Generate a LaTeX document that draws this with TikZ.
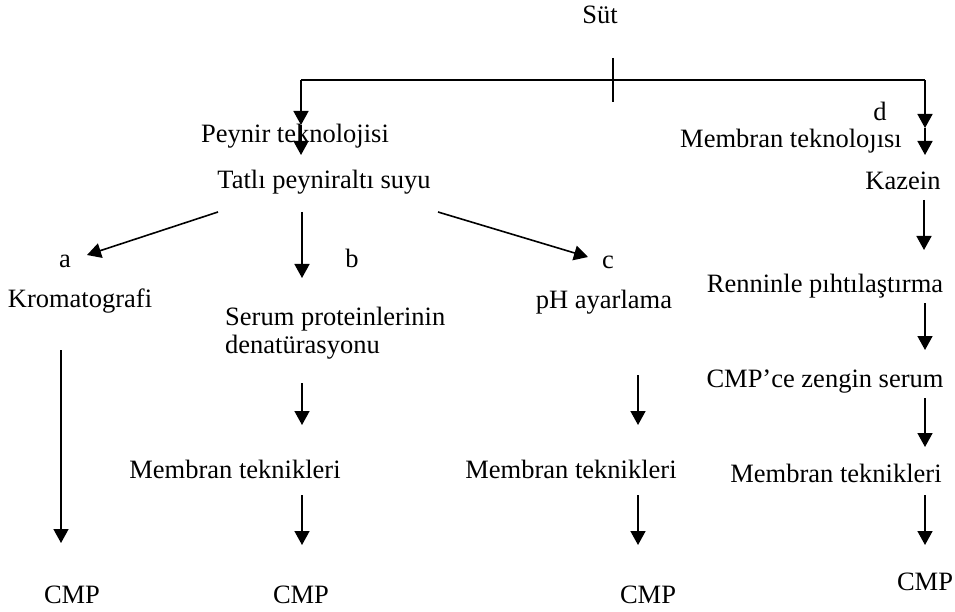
\documentclass[tikz,border=0pt]{standalone}
\usepackage{fontspec}
\setmainfont{Liberation Serif}
\usepackage{tikz}
\usetikzlibrary{arrows.meta}
\tikzset{lbl/.style = {anchor=base, inner sep=0pt,
  font=\fontsize{26.5}{28}\selectfont},
  arr/.style = {line width=1.6pt, -{Triangle[length=14pt,width=15pt]}},
  bar/.style = {line width=1.6pt}}

\begin{document}
\begin{tikzpicture}[x=1pt,y=-1pt]
  \useasboundingbox (0,0) rectangle (955,612);

  \node[lbl] (sut) at (600,24) {Süt};
  \node[lbl] (peynir) at (295,143) {Peynir teknolojisi};
  \node[lbl] (tatli) at (324,189) {Tatlı peyniraltı suyu};
  \node[lbl] (d) at (880,121) {d};
  \node[lbl] (memtek) at (791,148) {Membran teknoloȷısı};
  \node[lbl] (kazein) at (903,190) {Kazein};

  \node[lbl] (a) at (65,268) {a};
  \node[lbl] (b) at (352,268) {b};
  \node[lbl] (c) at (608,269) {c};
  \node[lbl] (krom) at (80,307) {Kromatografi};
  \node[lbl, align=left, anchor=base west] (serum) at (225,353)
    {Serum proteinlerinin\\denatürasyonu};
  \node[lbl] (ph) at (604,308) {pH ayarlama};
  \node[lbl] (rennin) at (825,292) {Renninle pıhtılaştırma};
  \node[lbl] (cmpserum) at (825,387) {CMP’ce zengin serum};

  \node[lbl] (memb1) at (235,478) {Membran teknikleri};
  \node[lbl] (memb2) at (571,478) {Membran teknikleri};
  \node[lbl] (memb3) at (836,482) {Membran teknikleri};

  \node[lbl] (cmp1) at (72,603) {CMP};
  \node[lbl] (cmp2) at (301,603) {CMP};
  \node[lbl] (cmp3) at (648,603) {CMP};
  \node[lbl] (cmp4) at (925,590) {CMP};

  \coordinate (barL) at (301,80);
  \coordinate (barR) at (925,80);
  \coordinate (tickT) at (613,58);
  \coordinate (tickB) at (613,102);
  \coordinate (midL) at (301,125);
  \coordinate (endL) at (301,155);
  \coordinate (midR) at (925,128);
  \coordinate (endR) at (925,155);

  \draw[bar] (barL) -- (barR);
  \draw[bar] (tickT) -- (tickB);
  \path[arr] (barL) edge (midL) (midL) edge (endL);
  \path[arr] (barR) edge (midR) (midR) edge (endR);

  \coordinate (ta) at (218,212);
  \coordinate (tb) at (302,212);
  \coordinate (tc) at (438,212);
  \path[arr] (ta) edge (87,255) (tb) edge (302,278) (tc) edge (588,257);

  \path[arr] (61,350) edge (61,543);
  \path[arr] (302,383) edge (302,425) (302,495) edge (302,545);
  \path[arr] (638,375) edge (638,425) (638,495) edge (638,545);
  \path[arr] (924,200) edge (924,250) (925,303) edge (925,350)
    (925,398) edge (925,447) (925,495) edge (925,545);

\end{tikzpicture}
\end{document}
